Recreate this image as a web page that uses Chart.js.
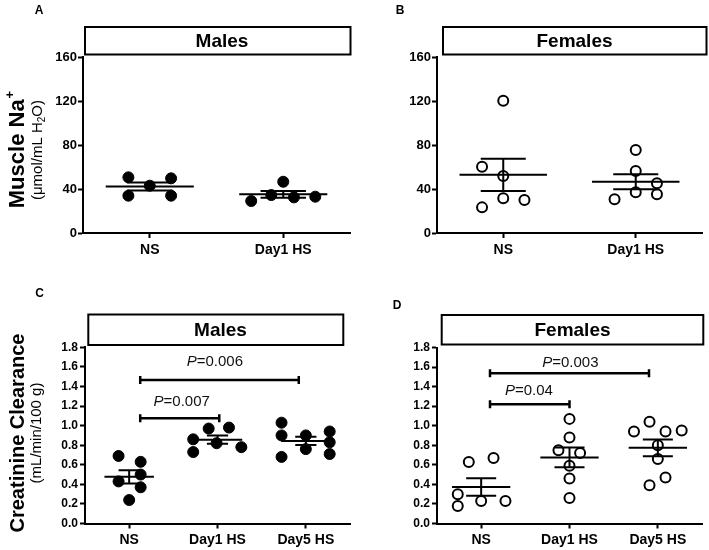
<!DOCTYPE html>
<html><head><meta charset="utf-8">
<script src="https://cdn.jsdelivr.net/npm/chart.js@4.4.1/dist/chart.umd.min.js"></script>
<style>
html,body{margin:0;padding:0;background:#fff;}
#wrap{position:relative;width:709px;height:550px;overflow:hidden;background:#fff;}
canvas{position:absolute;}
</style></head><body>
<div id="wrap">
<canvas id="cA" width="360" height="275" style="left:0px;top:0px"></canvas>
<canvas id="cB" width="349" height="275" style="left:360px;top:0px"></canvas>
<canvas id="cC" width="360" height="275" style="left:0px;top:275px"></canvas>
<canvas id="cD" width="349" height="275" style="left:360px;top:275px"></canvas>
</div>
<script>
const FONT = '"Liberation Sans", Arial, Helvetica, sans-serif';

// ---------------- data ----------------
const catsNa = ['NS', 'Day1 HS'];
const catsCr = ['NS', 'Day1 HS', 'Day5 HS'];
const ticksNa = [0, 40, 80, 120, 160];
const ticksCr = [0, 0.2, 0.4, 0.6, 0.8, 1.0, 1.2, 1.4, 1.6, 1.8];

// Muscle Na+ (µmol/mL H2O)
const naMaleNS   = [50.6, 49.7, 43.0, 33.9, 33.9];
const naMaleD1   = [29.1, 34.5, 46.6, 32.4, 33.0];
const naFemaleNS = [120.3, 60.3, 51.8, 31.5, 30.0, 23.3];
const naFemaleD1 = [75.5, 56.4, 45.2, 37.0, 35.2, 30.6];

// Creatinine clearance (mL/min/100 g)
const crMaleNS   = [0.69, 0.63, 0.43, 0.50, 0.37, 0.24];
const crMaleD1   = [0.97, 0.98, 0.86, 0.73, 0.82, 0.78];
const crMaleD5   = [1.03, 0.90, 0.68, 0.90, 0.76, 0.94, 0.83, 0.71];
const crFemaleNS = [0.63, 0.67, 0.30, 0.18, 0.23, 0.23];
const crFemaleD1 = [1.07, 0.88, 0.75, 0.72, 0.59, 0.46, 0.26];
const crFemaleD5 = [1.04, 0.94, 0.94, 0.95, 0.80, 0.66, 0.47, 0.39];

// p-value labels
const pMale   = ['=0.006', '=0.007'];
const pFemale = ['=0.003', '=0.04'];

// ---------------- layout (horizontal scatter offsets, in category units) ----------------
const jitA = [[-0.16, 0.16, 0, -0.16, 0.16], [-0.24, -0.09, 0, 0.08, 0.24]];
const jitB = [[0, -0.16, 0, 0, 0.16, -0.16], [0, 0, 0.16, 0, 0.16, -0.16]];
const jitC = [[-0.12, 0.13, -0.12, 0.13, 0.13, 0], [-0.10, 0.13, -0.275, -0.275, -0.01, 0.27], [-0.275, -0.275, -0.275, 0, 0, 0.27, 0.27, 0.27]];
const jitD = [[-0.14, 0.14, -0.265, -0.265, 0, 0.275], [0, 0, -0.125, 0.12, 0, 0, 0], [-0.094, -0.27, 0.087, 0.27, 0, 0, 0.087, -0.094]];

function meanSem(v) {
  const n = v.length;
  const m = v.reduce((a, b) => a + b, 0) / n;
  const sd = Math.sqrt(v.reduce((a, b) => a + (b - m) * (b - m), 0) / (n - 1));
  return { m, s: sd / Math.sqrt(n) };
}

const decor = {
  id: 'decor',
  afterDatasetsDraw(chart) {
    const cfg = chart.options.plugins.decor;
    const ctx = chart.ctx;
    const xs = chart.scales.x, ys = chart.scales.y;
    ctx.save();
    // significance brackets
    (cfg.brackets || []).forEach(b => {
      const x1 = xs.getPixelForValue(b.from), x2 = xs.getPixelForValue(b.to), y = ys.getPixelForValue(b.y);
      ctx.strokeStyle = '#000'; ctx.lineWidth = 2.5; ctx.lineCap = 'butt';
      ctx.beginPath();
      ctx.moveTo(x1, y); ctx.lineTo(x2, y);
      ctx.moveTo(x1, y - 4); ctx.lineTo(x1, y + 4);
      ctx.moveTo(x2, y - 4); ctx.lineTo(x2, y + 4);
      ctx.stroke();
      const cx = xs.getPixelForValue(b.lx), cy = ys.getPixelForValue(b.ly);
      ctx.font = 'italic 15px ' + FONT; const wP = ctx.measureText('P').width;
      ctx.font = '15px ' + FONT; const wR = ctx.measureText(b.text).width;
      const x0 = cx - (wP + wR) / 2;
      ctx.fillStyle = '#111'; ctx.textAlign = 'left'; ctx.textBaseline = 'middle';
      ctx.font = 'italic 15px ' + FONT; ctx.fillText('P', x0, cy);
      ctx.font = '15px ' + FONT; ctx.fillText(b.text, x0 + wP, cy);
    });
    ctx.restore();
  },
  afterDraw(chart) {
    const cfg = chart.options.plugins.decor;
    const ctx = chart.ctx;
    ctx.save();
    // header box
    const bx = cfg.box;
    ctx.fillStyle = '#fff'; ctx.fillRect(bx.x1, bx.y1, bx.x2 - bx.x1, bx.y2 - bx.y1);
    ctx.strokeStyle = '#000'; ctx.lineWidth = 2;
    ctx.strokeRect(bx.x1, bx.y1, bx.x2 - bx.x1, bx.y2 - bx.y1);
    ctx.fillStyle = '#000'; ctx.font = 'bold 19px ' + FONT;
    ctx.textAlign = 'center'; ctx.textBaseline = 'middle';
    ctx.fillText(bx.text, bx.tx, (bx.y1 + bx.y2) / 2 + 1);
    // panel letter
    ctx.font = 'bold 12px ' + FONT;
    ctx.fillText(cfg.letter.t, cfg.letter.x, cfg.letter.y);
    // y axis title
    if (cfg.ytitle) {
      const t = cfg.ytitle;
      ctx.save();
      ctx.translate(t.x, t.y); ctx.rotate(-Math.PI / 2);
      ctx.textAlign = 'left'; ctx.textBaseline = 'middle';
      ctx.font = 'bold ' + t.size + 'px ' + FONT;
      const w1 = ctx.measureText(t.main).width;
      let w2 = 0;
      if (t.sup) { ctx.font = 'bold 13px ' + FONT; w2 = ctx.measureText(t.sup).width; }
      const s0 = -(w1 + w2) / 2;
      ctx.font = 'bold ' + t.size + 'px ' + FONT; ctx.fillText(t.main, s0, 0);
      if (t.sup) { ctx.font = 'bold 13px ' + FONT; ctx.fillText(t.sup, s0 + w1 + 1, -8); }
      ctx.restore();
      // subtitle (with optional subscript)
      ctx.save();
      ctx.translate(t.sx, t.y); ctx.rotate(-Math.PI / 2);
      ctx.textAlign = 'left'; ctx.textBaseline = 'middle';
      const parts = t.sub; // [text, small?]
      let tw = 0;
      parts.forEach(p => { ctx.font = (p[1] ? '10px ' : '15px ') + FONT; tw += ctx.measureText(p[0]).width; });
      let px = -tw / 2;
      parts.forEach(p => {
        ctx.font = (p[1] ? '10px ' : '15px ') + FONT;
        ctx.fillText(p[0], px, p[1] ? 4 : 0);
        px += ctx.measureText(p[0]).width;
      });
      ctx.restore();
    }
    ctx.restore();
  }
};

function makePanel(id, cfg) {
  const canvas = document.getElementById(id);
  const W = canvas.width, H = canvas.height;
  const cats = cfg.cats;
  const datasets = [];
  cfg.groups.forEach((vals, gi) => {
    const jit = cfg.jitter[gi];
    const { m, s } = meanSem(vals);
    const hw = cfg.meanHalf, sw = cfg.semHalf;
    datasets.push({
      type: 'line', order: 0,
      data: [
        { x: gi - hw, y: m }, { x: gi + hw, y: m }, { x: gi, y: null },
        { x: gi - sw, y: m + s }, { x: gi + sw, y: m + s }, { x: gi, y: null },
        { x: gi - sw, y: m - s }, { x: gi + sw, y: m - s }, { x: gi, y: null },
        { x: gi, y: m - s }, { x: gi, y: m + s }
      ],
      borderColor: '#000', borderWidth: 2, pointRadius: 0, spanGaps: false, fill: false, tension: 0,
      borderCapStyle: 'butt'
    });
    datasets.push({
      type: 'scatter', order: 1,
      data: vals.map((v, i) => ({ x: gi + jit[i], y: v })),
      pointRadius: cfg.open ? 5 : 5.5,
      borderWidth: cfg.open ? 2 : 1,
      pointBackgroundColor: cfg.open ? '#fff' : '#000',
      backgroundColor: cfg.open ? '#fff' : '#000',
      pointBorderColor: '#000', borderColor: '#000', showLine: false
    });
  });
  const gridCommon = { display: true, drawOnChartArea: false, drawTicks: true, tickLength: 5, tickWidth: 2, tickColor: '#000' };
  return new Chart(canvas, {
    type: 'scatter',
    data: { datasets },
    options: {
      responsive: false, animation: false, devicePixelRatio: 1, events: [],
      layout: { padding: { top: cfg.area.top, right: W - cfg.area.right, left: 0, bottom: 0 } },
      plugins: {
        legend: { display: false }, tooltip: { enabled: false },
        decor: cfg.decor
      },
      scales: {
        x: {
          type: 'linear', min: -0.5, max: cats.length - 0.5,
          afterBuildTicks: s => { s.ticks = cats.map((c, i) => ({ value: i })); },
          afterFit: s => { s.height = H - cfg.area.bottom; },
          ticks: {
            callback: v => cats[v], color: '#000', padding: cfg.xPad, maxRotation: 0, autoSkip: false,
            font: { family: FONT, size: 14, weight: 'bold' }
          },
          grid: gridCommon,
          border: { display: true, color: '#000', width: 2 }
        },
        y: {
          type: 'linear', min: cfg.yTicks[0], max: cfg.yTicks[cfg.yTicks.length - 1],
          afterBuildTicks: s => { s.ticks = cfg.yTicks.map(v => ({ value: v })); },
          afterFit: s => { s.width = cfg.area.left; },
          ticks: {
            callback: v => cfg.yFmt(v), color: '#000', padding: cfg.yPad, autoSkip: false,
            font: { family: FONT, size: cfg.yFont, weight: 'bold' }
          },
          grid: gridCommon,
          border: { display: true, color: '#000', width: 2 }
        }
      }
    },
    plugins: [decor]
  });
}

Chart.defaults.font.family = FONT;

makePanel('cA', {
  cats: catsNa, groups: [naMaleNS, naMaleD1], jitter: jitA, open: false,
  meanHalf: 0.33, semHalf: 0.17,
  yTicks: ticksNa, yFmt: v => String(v), yFont: 13, yPad: 1, xPad: 4,
  area: { left: 83, right: 350, top: 57, bottom: 233 },
  decor: {
    box: { x1: 85, y1: 27, x2: 350.5, y2: 54.5, text: 'Males', tx: 222 },
    letter: { t: 'A', x: 39, y: 11 },
    ytitle: { main: 'Muscle Na', sup: '+', size: 22, x: 18, sx: 38, y: 150,
      sub: [['(μmol/mL H', false], ['2', true], ['O)', false]] }
  }
});

makePanel('cB', {
  cats: catsNa, groups: [naFemaleNS, naFemaleD1], jitter: jitB, open: true,
  meanHalf: 0.33, semHalf: 0.17,
  yTicks: ticksNa, yFmt: v => String(v), yFont: 13, yPad: 1, xPad: 4,
  area: { left: 77, right: 342, top: 57, bottom: 233 },
  decor: {
    box: { x1: 83, y1: 27, x2: 346.5, y2: 54.5, text: 'Females', tx: 214.5 },
    letter: { t: 'B', x: 40, y: 11 }
  }
});

makePanel('cC', {
  cats: catsCr, groups: [crMaleNS, crMaleD1, crMaleD5], jitter: jitC, open: false,
  meanHalf: 0.28, semHalf: 0.12,
  yTicks: ticksCr, yFmt: v => v.toFixed(1), yFont: 12, yPad: 2, xPad: 3,
  area: { left: 85, right: 350, top: 72.3, bottom: 248.5 },
  decor: {
    box: { x1: 88.3, y1: 39.5, x2: 343.3, y2: 70, text: 'Males', tx: 220.5 },
    letter: { t: 'C', x: 39.5, y: 18.5 },
    ytitle: { main: 'Creatinine Clearance', sup: '', size: 20, x: 18, sx: 37, y: 158,
      sub: [['(mL/min/100 g)', false]] },
    brackets: [
      { from: 0.125, to: 1.92, y: 1.465, text: pMale[0], lx: 0.97, ly: 1.654 },
      { from: 0.125, to: 1.02, y: 1.074, text: pMale[1], lx: 0.595, ly: 1.245 }
    ]
  }
});

makePanel('cD', {
  cats: catsCr, groups: [crFemaleNS, crFemaleD1, crFemaleD5], jitter: jitD, open: true,
  meanHalf: 0.33, semHalf: 0.17,
  yTicks: ticksCr, yFmt: v => v.toFixed(1), yFont: 12, yPad: 2, xPad: 3,
  area: { left: 77, right: 343, top: 72.5, bottom: 248.5 },
  decor: {
    box: { x1: 81.7, y1: 40, x2: 343.3, y2: 69.5, text: 'Females', tx: 212.5 },
    letter: { t: 'D', x: 37, y: 30.5 },
    brackets: [
      { from: 0.10, to: 1.90, y: 1.536, text: pFemale[0], lx: 1.01, ly: 1.648 },
      { from: 0.10, to: 1.00, y: 1.219, text: pFemale[1], lx: 0.54, ly: 1.352 }
    ]
  }
});
</script>
</body></html>
